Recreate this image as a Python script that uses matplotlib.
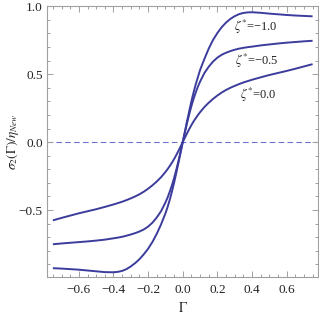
import matplotlib
matplotlib.use("Agg")
import matplotlib.pyplot as plt
from matplotlib.ticker import MultipleLocator, FixedLocator

plt.rcParams['font.family'] = ['Liberation Serif', 'DejaVu Serif']
plt.rcParams['mathtext.fontset'] = 'stix'
plt.rcParams['axes.unicode_minus'] = True

gamma = [-0.75, -0.70, -0.65, -0.60, -0.55, -0.50, -0.45, -0.40, -0.375, -0.35,
         -0.325, -0.30, -0.275, -0.25, -0.225, -0.20, -0.175, -0.15, -0.125, -0.10,
         -0.0875, -0.075, -0.0625, -0.05, -0.0375, -0.025, -0.0125, 0.0,
         0.0125, 0.025, 0.0375, 0.05, 0.0625, 0.075, 0.0875, 0.10, 0.125, 0.15,
         0.175, 0.20, 0.225, 0.25, 0.275, 0.30, 0.325, 0.35, 0.375, 0.40,
         0.45, 0.50, 0.55, 0.60, 0.65, 0.70, 0.75]

sigma_zeta_0 = [-0.576, -0.558, -0.541, -0.524, -0.509, -0.494, -0.477, -0.459, -0.449, -0.439,
                -0.427, -0.414, -0.400, -0.384, -0.365, -0.343, -0.318, -0.290, -0.258, -0.220,
                -0.199, -0.176, -0.152, -0.125, -0.096, -0.065, -0.033, 0.0,
                0.033, 0.065, 0.096, 0.125, 0.152, 0.176, 0.199, 0.220, 0.258, 0.290,
                0.318, 0.343, 0.365, 0.384, 0.400, 0.414, 0.427, 0.439, 0.449, 0.459,
                0.477, 0.494, 0.509, 0.524, 0.540, 0.557, 0.574]

sigma_zeta_m05 = [-0.752, -0.746, -0.741, -0.736, -0.731, -0.725, -0.718, -0.708, -0.703, -0.697,
                  -0.689, -0.680, -0.670, -0.658, -0.643, -0.622, -0.593, -0.555, -0.508, -0.445,
                  -0.408, -0.365, -0.318, -0.265, -0.205, -0.140, -0.071, 0.0,
                  0.071, 0.140, 0.205, 0.265, 0.318, 0.365, 0.408, 0.445, 0.508, 0.555,
                  0.593, 0.622, 0.643, 0.658, 0.670, 0.680, 0.688, 0.694, 0.699, 0.703,
                  0.712, 0.719, 0.726, 0.732, 0.737, 0.742, 0.746]

sigma_zeta_m10 = [-0.928, -0.931, -0.935, -0.939, -0.945, -0.951, -0.957, -0.958, -0.955, -0.948,
                  -0.935, -0.915, -0.891, -0.862, -0.826, -0.785, -0.735, -0.675, -0.605, -0.525,
                  -0.478, -0.425, -0.365, -0.300, -0.228, -0.155, -0.078, 0.0,
                  0.078, 0.155, 0.228, 0.300, 0.365, 0.425, 0.478, 0.530, 0.612, 0.688,
                  0.752, 0.803, 0.846, 0.880, 0.907, 0.927, 0.942, 0.951, 0.955, 0.956,
                  0.952, 0.946, 0.941, 0.936, 0.932, 0.929, 0.926]

labels = [r"$\zeta^{*}$=−1.0", r"$\zeta^{*}$=−0.5", r"$\zeta^{*}$=0.0"]
label_pos = [(0.42, 0.85), (0.43, 0.596), (0.435, 0.35)]

xtick_vals = [-0.6, -0.4, -0.2, 0.0, 0.2, 0.4, 0.6]
xtick_text = ['−0.6', '−0.4', '−0.2', '0.0', '0.2', '0.4', '0.6']
ytick_vals = [-0.5, 0.0, 0.5, 1.0]
ytick_text = ['−0.5', '0.0', '0.5', '1.0']

line_color = '#3c3c9c'
frame_color = '#a0a0a0'
text_color = '#222222'

fig = plt.figure(figsize=(3.19, 3.14), dpi=100)
ax = fig.add_axes([0.1473, 0.1178, 0.9978 - 0.1473, 0.98 - 0.1178])

ax.axhline(0.0, color='#7070d0', lw=0.8, ls=(0, (5, 3)), zorder=1)
for s in (sigma_zeta_m10, sigma_zeta_m05, sigma_zeta_0):
    ax.plot(gamma, s, color=line_color, lw=1.4, solid_capstyle='butt',
            solid_joinstyle='round', zorder=2)

for txt, (x, y) in zip(labels, label_pos):
    ax.text(x, y, txt, ha='center', va='center', fontsize=9, color=text_color)

ax.set_xlim(-0.784, 0.783)
ax.set_ylim(-0.993, 1.0)

ax.xaxis.set_major_locator(FixedLocator(xtick_vals))
ax.xaxis.set_minor_locator(MultipleLocator(0.05))
ax.yaxis.set_major_locator(FixedLocator(ytick_vals))
ax.yaxis.set_minor_locator(MultipleLocator(0.1))
ax.set_xticklabels(xtick_text)
ax.set_yticklabels(ytick_text)

for sp in ax.spines.values():
    sp.set_color(frame_color)
    sp.set_linewidth(0.8)

ax.tick_params(which='both', direction='in', top=True, right=True,
               color=frame_color, labelsize=9.5, labelcolor=text_color, width=0.7)
ax.tick_params(which='major', length=4)
ax.tick_params(which='minor', length=2.2)
ax.tick_params(axis='x', which='major', pad=5)
ax.tick_params(axis='y', which='major', pad=3)

ax.set_xlabel(r"$\Gamma$", fontsize=10, color=text_color, va='center')
ax.set_ylabel(r"$\sigma_2(\Gamma)/\eta_{New}$", fontsize=9.5, color=text_color, va='center')
ax.xaxis.set_label_coords(0.5, -0.115)
ax.yaxis.set_label_coords(-0.125, 0.5)

fig.savefig('out.png', dpi=100)
